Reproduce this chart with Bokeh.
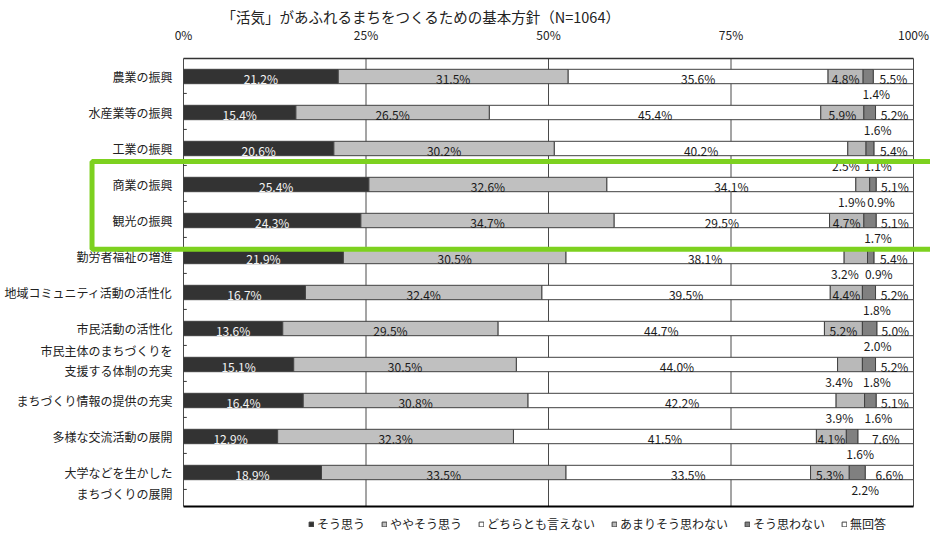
import numpy as np
from bokeh.plotting import figure
from bokeh.models import Range1d, FixedTicker, Legend, LegendItem, BoxAnnotation, Title
from bokeh.core.properties import value
from bokeh.embed import file_html
from bokeh.resources import INLINE

# ---------------- data ----------------
TITLE = "「活気」があふれるまちをつくるための基本方針（N=1064）"
categories = ["農業の振興", "水産業等の振興", "工業の振興", "商業の振興", "観光の振興",
              "勤労者福祉の増進", "地域コミュニティ活動の活性化", "市民活動の活性化",
              "市民主体のまちづくりを\n支援する体制の充実", "まちづくり情報の提供の充実",
              "多様な交流活動の展開", "大学などを生かした\nまちづくりの展開"]
series_names = ["そう思う", "ややそう思う", "どちらとも言えない", "あまりそう思わない", "そう思わない", "無回答"]
so_omou = [21.2, 15.4, 20.6, 25.4, 24.3, 21.9, 16.7, 13.6, 15.1, 16.4, 12.9, 18.9]
yaya_so_omou = [31.5, 26.5, 30.2, 32.6, 34.7, 30.5, 32.4, 29.5, 30.5, 30.8, 32.3, 33.5]
dochiratomo = [35.6, 45.4, 40.2, 34.1, 29.5, 38.1, 39.5, 44.7, 44.0, 42.2, 41.5, 33.5]
amari = [4.8, 5.9, 2.5, 1.9, 4.7, 3.2, 4.4, 5.2, 3.4, 3.9, 4.1, 5.3]
so_omowanai = [1.4, 1.6, 1.1, 0.9, 1.7, 0.9, 1.8, 2.0, 1.8, 1.6, 1.6, 2.2]
mukaitou = [5.5, 5.2, 5.4, 5.1, 5.1, 5.4, 5.2, 5.0, 5.2, 5.1, 7.6, 6.6]
x_ticks = [0, 25, 50, 75, 100]
x_tick_labels = ["0%", "25%", "50%", "75%", "100%"]

series = [so_omou, yaya_so_omou, dochiratomo, amari, so_omowanai, mukaitou]

# ---------------- style / layout ----------------
fills = ["#333333", "#c0c0c0", "#ffffff", "#b9b9b9", "#808080", "#ffffff"]
text_cols = ["#f4f4f4", "#1a1a1a", "#1a1a1a", "#1a1a1a", "#1a1a1a", "#1a1a1a"]
EDGE = "#404040"
JP_NAME = "Noto Sans CJK JP"
JP = value(JP_NAME)

W, H = 930, 536
ROW_PX = 36.0
PCT_PX = 7.3
ZERO_PX = 183           # canvas px of the 0% line
TOP_BORDER = 54
frame_h = H - TOP_BORDER
y_top_line = -0.5
y_end = y_top_line - 4 / ROW_PX
y_start = y_end + frame_h / ROW_PX
y_bottom_line = y_top_line + 448 / ROW_PX
x_start = -ZERO_PX / PCT_PX
x_end = (W - ZERO_PX) / PCT_PX
BAR_H = 0.4
INSIDE_MIN = 4.0

rows = np.arange(len(categories))

p = figure(width=W, height=H, output_backend="svg", toolbar_location=None,
           x_range=Range1d(x_start, x_end), y_range=Range1d(y_start, y_end),
           x_axis_location="above", y_axis_location=None,
           min_border_left=0, min_border_right=0,
           min_border_top=TOP_BORDER, min_border_bottom=0)
p.outline_line_color = None
p.grid.visible = False
p.background_fill_color = "white"
p.border_fill_color = "white"

# top axis with percentage labels
ax = p.xaxis[0]
ax.ticker = FixedTicker(ticks=x_ticks)
ax.major_label_overrides = {t: l for t, l in zip(x_ticks, x_tick_labels)}
ax.axis_line_color = None
ax.major_tick_line_color = None
ax.minor_tick_line_color = None
ax.major_tick_out = 0
ax.major_tick_in = 0
ax.major_label_standoff = 12
ax.major_label_text_font = JP_NAME
ax.major_label_text_font_size = "12px"
ax.major_label_text_color = "#222222"

# title
p.title = Title(text=TITLE, align="left", offset=221, standoff=-8,
                text_font=JP_NAME, text_font_size="14.5px", text_font_style="normal",
                text_color="#222222")

# grid / frame lines
p.segment(x0=x_ticks, x1=x_ticks, y0=y_top_line, y1=y_bottom_line, line_color="#4a4a4a", line_width=1)
p.segment(x0=[0], x1=[100], y0=[y_top_line], y1=[y_top_line], line_color="#333333", line_width=1.5)
p.segment(x0=[0], x1=[100], y0=[y_bottom_line], y1=[y_bottom_line], line_color="#000000", line_width=2)
tick_y = rows + 0.47
p.segment(x0=0, x1=0.45, y0=tick_y, y1=tick_y, line_color="#333333", line_width=1)

# stacked bars
cum = np.zeros(len(categories))
renderers = []
for k, vals in enumerate(series):
    v = np.array(vals)
    left = cum.copy()
    right = cum + v
    r = p.hbar(y=rows, left=left, right=right, height=BAR_H, fill_color=fills[k],
               line_color=EDGE, line_width=1)
    renderers.append(r)
    mid = (left + right) / 2
    inside = v >= INSIDE_MIN
    labels = [f"{x:.1f}%" for x in v]
    if inside.any():
        p.text(x=mid[inside], y=rows[inside] + 0.05, text=[l for l, m in zip(labels, inside) if m],
               text_align="center", text_baseline="middle", text_font=JP,
               text_font_size="12px", text_color=text_cols[k])
    out = ~inside
    if out.any():
        p.text(x=mid[out], y=rows[out] + 0.47, text=[l for l, m in zip(labels, out) if m],
               x_offset=(-11 if k == 3 else 8),
               text_align="center", text_baseline="middle", text_font=JP,
               text_font_size="12px", text_color="#1a1a1a")
    cum = right

# category labels (left of the 0% line)
two_line_first = {8: -0.40, 11: 0.0}
LINE_STEP = 0.57
lab_x, lab_y, lab_t = [], [], []
for i, c in enumerate(categories):
    parts = c.split("\n")
    if len(parts) == 1:
        lab_x.append(0); lab_y.append(i); lab_t.append(c)
    else:
        for j, part in enumerate(parts):
            lab_x.append(0); lab_y.append(i + two_line_first[i] + j * LINE_STEP); lab_t.append(part)
p.text(x=lab_x, y=lab_y, text=lab_t, x_offset=-11, text_align="right", text_baseline="middle",
       text_font=JP, text_font_size="12px", text_color="#222222")

# highlight box
box = BoxAnnotation(left=-12.53, right=102.8, top=2.36, bottom=4.8,
                    fill_color=None, fill_alpha=0, line_color="#7dd11f", line_alpha=1.0, line_width=5)
p.add_layout(box)

# legend (inside the frame, below the bottom axis line)
legend = Legend(items=[LegendItem(label=n, renderers=[r]) for n, r in zip(series_names, renderers)],
                orientation="horizontal", location=(308, 4), spacing=16, padding=0, margin=0,
                glyph_width=6, glyph_height=6, label_standoff=3, label_height=14,
                label_text_font=JP_NAME, label_text_font_size="12px", label_text_color="#222222",
                border_line_color=None, background_fill_alpha=0)
p.add_layout(legend)

open("out.html", "w").write(file_html(p, INLINE))
